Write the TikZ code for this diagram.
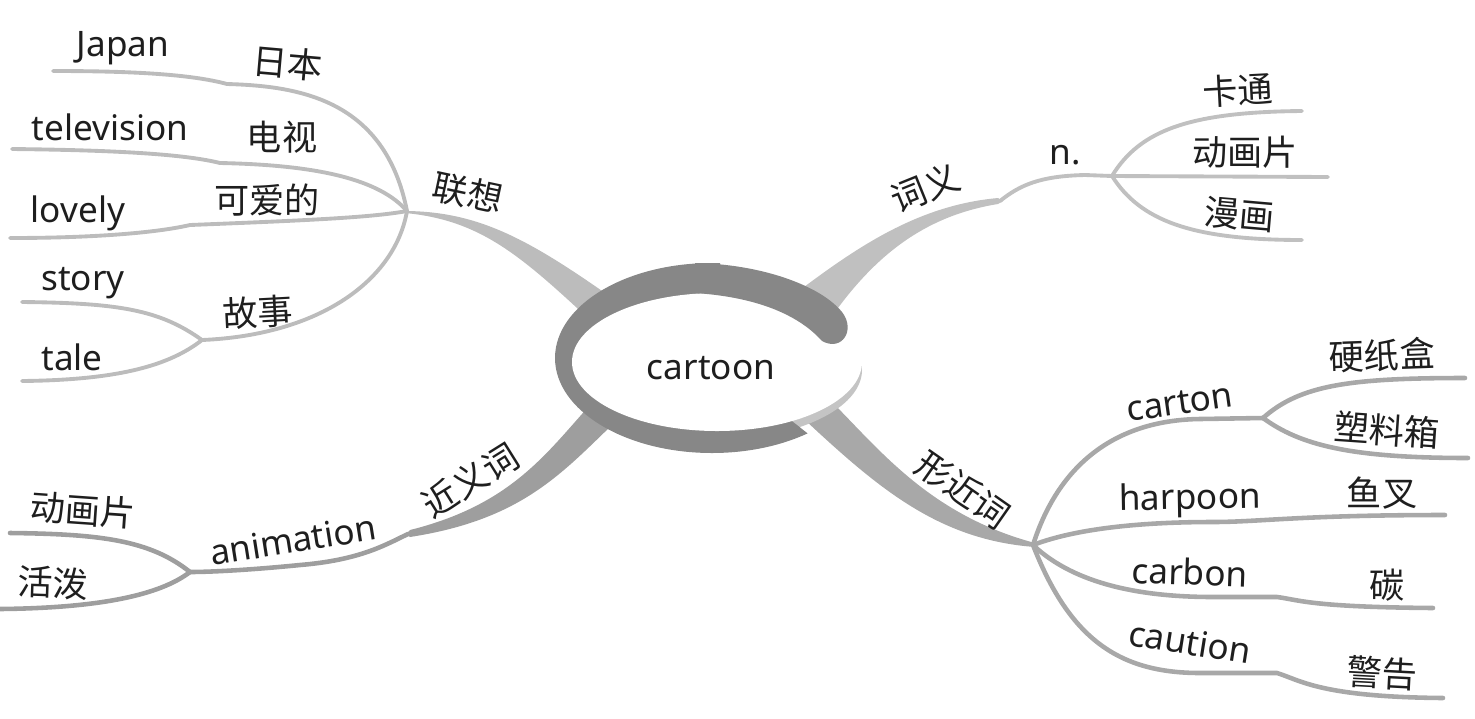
\documentclass[tikz,border=0pt]{standalone}
\usepackage{fontspec}
\setmainfont{Noto Sans}
\newfontfamily\cjk{Noto Sans CJK SC}
\definecolor{txt}{HTML}{1E1E1E}
\definecolor{ring}{HTML}{878787}
\definecolor{rim}{HTML}{C4C4C4}
\definecolor{cA}{HTML}{BCBCBC}
\definecolor{cB}{HTML}{C0C0C0}
\definecolor{cC}{HTML}{9E9E9E}
\definecolor{cD}{HTML}{A8A8A8}
\begin{document}
\begin{tikzpicture}[x=0.02cm,y=-0.02cm,
  en/.style={font=\fontsize{20}{24}\selectfont,text=txt,inner sep=0pt},
  zh/.style={font=\cjk\fontsize{20}{24}\selectfont,text=txt,inner sep=0pt},
  subA/.style={draw=cA,line width=2.2pt,line cap=round},
  subB/.style={draw=cB,line width=2.2pt,line cap=round},
  subC/.style={draw=cC,line width=2.6pt,line cap=round},
  subD/.style={draw=cD,line width=2.6pt,line cap=round}]
\useasboundingbox (0,0) rectangle (1475,718);

% ---------- hubs and free ends ----------
\coordinate (hubL) at (407,211);
\coordinate (hubS) at (202,340);
\coordinate (kinkC) at (408,534);
\coordinate (hubA) at (190,572);
\coordinate (kinkB) at (1000,201);
\coordinate (hubN) at (1112,176);
\coordinate (hubR) at (1033,545);
\coordinate (hubK) at (1263,418);

\coordinate (eJapan) at (53,71);
\coordinate (eTv) at (12,149);
\coordinate (eLovely) at (10,238);
\coordinate (eStory) at (22,302);
\coordinate (eTale) at (22,381);
\coordinate (eDhp) at (10,533);
\coordinate (eHp) at (0,609);
\coordinate (eKt) at (1302,111);
\coordinate (eDh) at (1328,177);
\coordinate (eMh) at (1302,240);
\coordinate (eYz) at (1465,378);
\coordinate (eSl) at (1468,458);
\coordinate (eYc) at (1445,515);
\coordinate (eTan) at (1433,608);
\coordinate (eJg) at (1443,698);

% ---------- main bands ----------
\fill[cA] (hubL) .. controls (480,212) and (530,240) .. (615,300) -- (590,320)
  .. controls (520,255) and (480,220) .. (405,213) -- cycle;
\fill[cB] (800,290) .. controls (860,245) and (920,205) .. (998,198) -- (1003,201) -- (998,204)
  .. controls (930,215) and (880,250) .. (835,312) -- cycle;
\fill[cC] (590,405) .. controls (545,455) and (510,505) .. (410,530) -- (406,534) -- (410,537)
  .. controls (520,520) and (560,475) .. (612,425) -- cycle;
\fill[cD] (830,400) .. controls (880,450) and (930,515) .. (1035,543) -- (1035,547)
  .. controls (940,540) and (880,490) .. (805,420) -- cycle;

% ---------- sub branches: 联想 ----------
\draw[subA] (eJapan) .. controls (130,71) and (190,74) .. (227,84) .. controls (300,86) and (385,100) .. (hubL);
\draw[subA] (eTv) .. controls (100,150) and (180,153) .. (220,163) .. controls (320,165) and (380,180) .. (hubL);
\draw[subA] (eLovely) .. controls (100,238) and (160,232) .. (190,225) .. controls (290,221) and (370,218) .. (hubL);
\draw[subA] (hubL) .. controls (395,280) and (320,335) .. (hubS);
\draw[subA] (eStory) .. controls (120,303) and (160,310) .. (hubS);
\draw[subA] (eTale) .. controls (120,380) and (170,365) .. (hubS);

% ---------- 近义词 ----------
\draw[subC] (kinkC) .. controls (385,545) and (360,560) .. (300,565) .. controls (250,570) and (210,572) .. (hubA);
\draw[subC] (eDhp) .. controls (100,534) and (150,540) .. (hubA);
\draw[subC] (eHp) .. controls (100,608) and (160,595) .. (hubA);

% ---------- 词义 ----------
\draw[subB] (kinkB) .. controls (1020,185) and (1040,176) .. (1085,175) -- (hubN);
\draw[subB] (hubN) .. controls (1140,130) and (1190,112) .. (eKt);
\draw[subB] (hubN) -- (eDh);
\draw[subB] (hubN) .. controls (1140,220) and (1190,240) .. (eMh);

% ---------- 形近词 ----------
\draw[subD] (hubR) .. controls (1060,460) and (1120,420) .. (1200,419) -- (hubK);
\draw[subD] (hubK) .. controls (1300,385) and (1350,378) .. (eYz);
\draw[subD] (hubK) .. controls (1300,445) and (1350,458) .. (eSl);
\draw[subD] (hubR) .. controls (1080,527) and (1150,522) .. (1213,522) .. controls (1260,522) and (1300,515) .. (eYc);
\draw[subD] (hubR) .. controls (1070,580) and (1130,597) .. (1213,597) -- (1277,597) .. controls (1300,600) and (1310,607) .. (eTan);
\draw[subD] (hubR) .. controls (1070,640) and (1120,673) .. (1200,673) -- (1277,673) .. controls (1300,680) and (1320,697) .. (eJg);

% ---------- central ellipse ----------
\begin{scope}
  \clip (745,330) rectangle (900,470);
  \fill[rim] (714,370) ellipse [x radius=148, y radius=70];
\end{scope}
\begin{scope}
  \clip (712,358) -- (835,455) -- (835,520) -- (400,520) -- (400,200) -- (720,200) -- (720,358) -- cycle;
  \fill[ring] (712,358) ellipse [x radius=157, y radius=95];
\end{scope}
\fill[white] (717,362) ellipse [x radius=145, y radius=69];
\fill[ring] (695,263) .. controls (760,264) and (820,285) .. (842,312)
  .. controls (856,330) and (842,352) .. (822,341)
  .. controls (805,322) and (770,298) .. (695,293) -- cycle;
\node[en] (center) at (711,368) {cartoon};

% ---------- labels ----------
\node[zh,rotate=-12] (lx) at (468,193) {联想};
\node[zh,rotate=-5] (rb) at (288,63) {日本};
\node[en] (japan) at (123,48) {Japan};
\node[zh] (ds) at (282,137) {电视};
\node[en] (tv) at (110,127) {television};
\node[zh] (kad) at (267,200) {可爱的};
\node[en] (lovely) at (78,213) {lovely};
\node[zh,rotate=3] (gs) at (258,312) {故事};
\node[en] (story) at (83,283) {story};
\node[en] (tale) at (72,357) {tale};

\node[zh,rotate=32] (jyc) at (470,480) {近义词};
\node[en,rotate=9] (anim) at (293,540) {animation};
\node[zh,rotate=-4] (dhp) at (83,510) {动画片};
\node[zh,rotate=-2] (hp) at (53,583) {活泼};

\node[zh,rotate=22] (cy) at (925,188) {词义};
\node[en] (n) at (1065,155) {n.};
\node[zh,rotate=3] (kt) at (1238,90) {卡通};
\node[zh] (dh) at (1245,152) {动画片};
\node[zh,rotate=-5] (mh) at (1240,215) {漫画};

\node[zh,rotate=-35] (xjc) at (963,490) {形近词};
\node[en,rotate=8] (carton) at (1180,403) {carton};
\node[zh,rotate=2] (yzh) at (1382,355) {硬纸盒};
\node[zh,rotate=-4] (slx) at (1387,430) {塑料箱};
\node[en,rotate=1] (harpoon) at (1190,500) {harpoon};
\node[zh] (yc) at (1382,493) {鱼叉};
\node[en,rotate=-2] (carbon) at (1190,572) {carbon};
\node[zh] (tan) at (1387,585) {碳};
\node[en,rotate=-9] (caution) at (1190,642) {caution};
\node[zh,rotate=-3] (jg) at (1382,673) {警告};
\end{tikzpicture}
\end{document}
